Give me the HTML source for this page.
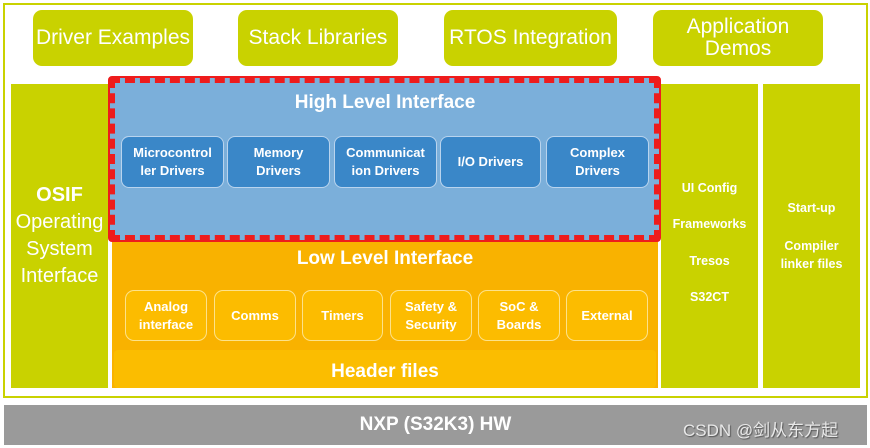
<!DOCTYPE html><html><head><style>
body{margin:0;width:870px;height:448px;background:#fff;position:relative;overflow:hidden;font-family:"Liberation Sans",sans-serif;}
div{position:absolute;box-sizing:border-box;}
.g{background:#c9d200;color:#fff;}
.t{display:flex;align-items:center;justify-content:center;text-align:center;}
.top{top:10px;height:56px;border-radius:9px;font-size:21px;line-height:22px;}
.hb{top:136px;height:52px;background:#3a87c8;border:1px solid #b9d4ee;border-radius:8px;color:#fff;font-weight:bold;font-size:13px;line-height:18px;}
.lb{top:290px;height:51px;border:1.5px solid #fde28a;border-radius:9px;color:#fff;font-weight:bold;font-size:13px;line-height:18px;background:#fcbc00;}
.col{font-weight:bold;font-size:12.5px;color:#fff;text-align:center;}
</style></head><body>
<div style="left:3px;top:3px;width:865px;height:395px;border:2px solid #c9d200;"></div>
<div class="g t top" style="left:33px;width:160px;">Driver Examples</div>
<div class="g t top" style="left:238px;width:160px;">Stack Libraries</div>
<div class="g t top" style="left:444px;width:173px;">RTOS Integration</div>
<div class="g t top" style="left:653px;width:170px;">Application<br>Demos</div>
<div class="g t" style="left:11px;top:84px;width:97px;height:304px;font-size:20px;line-height:27px;"><span><b>OSIF</b><br>Operating<br>System<br>Interface</span></div>
<div style="left:112px;top:240px;width:546px;height:148px;background:#f9b200;"></div>
<div style="left:114px;top:350px;width:542px;height:38px;background:#fbbd00;border-radius:4px;"></div>
<div class="t" style="left:112px;top:246px;width:546px;height:26px;color:#fff;font-weight:bold;font-size:19px;">Low Level Interface</div>
<div class="t" style="left:112px;top:358px;width:546px;height:28px;color:#fff;font-weight:bold;font-size:19px;">Header files</div>
<div class="lb t" style="left:125px;width:82px;">Analog<br>interface</div>
<div class="lb t" style="left:214px;width:82px;">Comms</div>
<div class="lb t" style="left:302px;width:81px;">Timers</div>
<div class="lb t" style="left:390px;width:82px;">Safety &amp;<br>Security</div>
<div class="lb t" style="left:478px;width:82px;">SoC &amp;<br>Boards</div>
<div class="lb t" style="left:566px;width:82px;">External</div>
<div style="left:108px;top:76px;width:553px;height:166px;border:2px solid #ee1c1c;background:#fff;border-radius:4px;">
<div style="left:0;top:0;width:549px;height:162px;border:5px dashed #ee1c1c;background:#7bafda;"></div></div>
<div class="t" style="left:112px;top:90px;width:546px;height:26px;color:#fff;font-weight:bold;font-size:19px;">High Level Interface</div>
<div class="hb t" style="left:121px;width:103px;">Microcontrol<br>ler Drivers</div>
<div class="hb t" style="left:227px;width:103px;">Memory<br>Drivers</div>
<div class="hb t" style="left:334px;width:103px;">Communicat<br>ion Drivers</div>
<div class="hb t" style="left:440px;width:101px;">I/O Drivers</div>
<div class="hb t" style="left:546px;width:103px;">Complex<br>Drivers</div>
<div class="g" style="left:661px;top:84px;width:97px;height:304px;"></div>
<div class="g" style="left:763px;top:84px;width:97px;height:304px;"></div>
<div class="col" style="left:661px;top:181px;width:97px;">UI Config</div>
<div class="col" style="left:661px;top:217px;width:97px;">Frameworks</div>
<div class="col" style="left:661px;top:254px;width:97px;">Tresos</div>
<div class="col" style="left:661px;top:290px;width:97px;">S32CT</div>
<div class="col" style="left:763px;top:201px;width:97px;">Start-up</div>
<div class="col" style="left:763px;top:237px;width:97px;line-height:18px;">Compiler<br>linker files</div>
<div class="t" style="left:4px;top:405px;width:863px;height:40px;background:#9a9a9a;color:#fff;font-weight:bold;font-size:19px;">NXP (S32K3) HW</div>
<div style="left:683px;top:416px;font-size:17px;color:#e8e8e8;font-family:'Liberation Sans','Noto Sans CJK SC',sans-serif;text-shadow:1px 1px 1px #555;">CSDN @剑从东方起</div>
</body></html>
